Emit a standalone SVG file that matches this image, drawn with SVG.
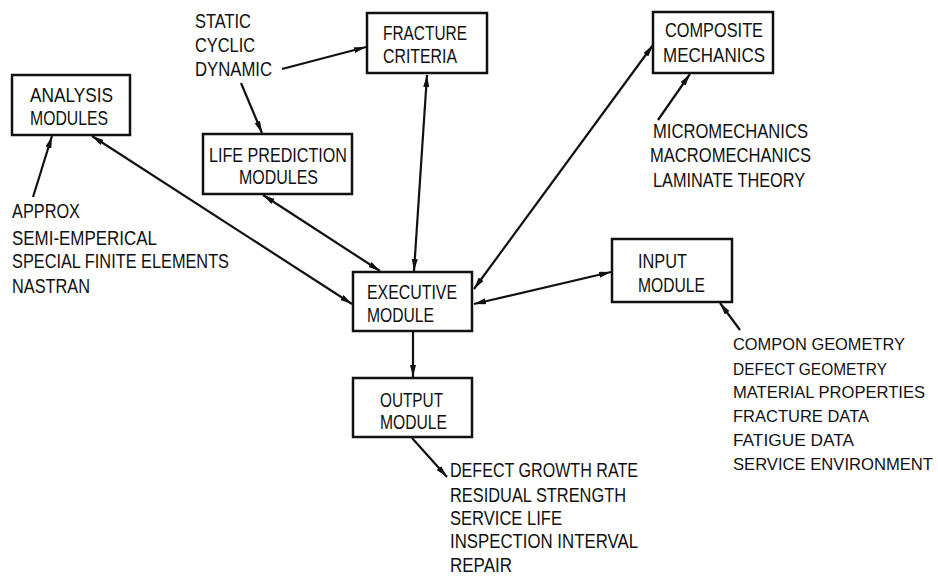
<svg xmlns="http://www.w3.org/2000/svg" width="938" height="577" viewBox="0 0 938 577">
<style>
.box{fill:#fff;stroke:#111;stroke-width:2.5}
text{font-family:"Liberation Sans","DejaVu Sans",sans-serif;font-size:20px;fill:#111}
#inputs text{font-size:16.5px}
.c line{stroke:#111;stroke-width:2.2}
</style>
<defs>
<marker id="ah" markerUnits="userSpaceOnUse" viewBox="0 0 12 6" refX="12" refY="3" markerWidth="12" markerHeight="6" orient="auto-start-reverse">
<path d="M0,0 L12,3 L0,6 Z" fill="#111"/>
</marker>
</defs>
<g class="c" id="connectors">
<line x1="282" y1="69" x2="366" y2="47" marker-end="url(#ah)"/>
<line x1="241" y1="83" x2="262" y2="133" marker-end="url(#ah)"/>
<line x1="427" y1="75" x2="414" y2="271" marker-start="url(#ah)" marker-end="url(#ah)"/>
<line x1="33" y1="197" x2="52" y2="136" marker-end="url(#ah)"/>
<line x1="92" y1="136" x2="352" y2="304" marker-start="url(#ah)" marker-end="url(#ah)"/>
<line x1="263" y1="195" x2="380" y2="271" marker-start="url(#ah)" marker-end="url(#ah)"/>
<line x1="653" y1="45" x2="474" y2="289" marker-start="url(#ah)" marker-end="url(#ah)"/>
<line x1="658" y1="120" x2="690" y2="74" marker-end="url(#ah)"/>
<line x1="611" y1="272" x2="474" y2="304" marker-start="url(#ah)" marker-end="url(#ah)"/>
<line x1="740" y1="330" x2="720" y2="303" marker-end="url(#ah)"/>
<line x1="413" y1="332" x2="413" y2="377" marker-end="url(#ah)"/>
<line x1="412" y1="438" x2="447" y2="477" marker-end="url(#ah)"/>
</g>
<g id="analysis">
<rect class="box" x="12" y="75" width="118" height="60"/>
<text x="30" y="102" textLength="83" lengthAdjust="spacingAndGlyphs">ANALYSIS</text>
<text x="30" y="125" textLength="78" lengthAdjust="spacingAndGlyphs">MODULES</text>
</g>
<g id="life">
<rect class="box" x="203" y="134" width="149" height="60"/>
<text x="209" y="162" textLength="138" lengthAdjust="spacingAndGlyphs">LIFE PREDICTION</text>
<text x="239" y="184" textLength="79" lengthAdjust="spacingAndGlyphs">MODULES</text>
</g>
<g id="fracture">
<rect class="box" x="367" y="13" width="120" height="60"/>
<text x="383" y="40" textLength="84" lengthAdjust="spacingAndGlyphs">FRACTURE</text>
<text x="383" y="63" textLength="74" lengthAdjust="spacingAndGlyphs">CRITERIA</text>
</g>
<g id="composite">
<rect class="box" x="653" y="12" width="120" height="61"/>
<text x="665" y="37" textLength="98" lengthAdjust="spacingAndGlyphs">COMPOSITE</text>
<text x="663" y="62" textLength="102" lengthAdjust="spacingAndGlyphs">MECHANICS</text>
</g>
<g id="executive">
<rect class="box" x="353" y="272" width="119" height="59"/>
<text x="367" y="299" textLength="90" lengthAdjust="spacingAndGlyphs">EXECUTIVE</text>
<text x="367" y="322" textLength="67" lengthAdjust="spacingAndGlyphs">MODULE</text>
</g>
<g id="input">
<rect class="box" x="612" y="239" width="120" height="63"/>
<text x="638" y="268" textLength="49" lengthAdjust="spacingAndGlyphs">INPUT</text>
<text x="638" y="292" textLength="67" lengthAdjust="spacingAndGlyphs">MODULE</text>
</g>
<g id="output">
<rect class="box" x="353" y="378" width="119" height="59"/>
<text x="380" y="407" textLength="63" lengthAdjust="spacingAndGlyphs">OUTPUT</text>
<text x="380" y="429" textLength="67" lengthAdjust="spacingAndGlyphs">MODULE</text>
</g>
<g id="loads">
<text x="195" y="28" textLength="56" lengthAdjust="spacingAndGlyphs">STATIC</text>
<text x="195" y="52" textLength="60" lengthAdjust="spacingAndGlyphs">CYCLIC</text>
<text x="195" y="76" textLength="77" lengthAdjust="spacingAndGlyphs">DYNAMIC</text>
</g>
<g id="methods">
<text x="12" y="218" textLength="68" lengthAdjust="spacingAndGlyphs">APPROX</text>
<text x="12" y="245" textLength="145" lengthAdjust="spacingAndGlyphs">SEMI-EMPERICAL</text>
<text x="12" y="268" textLength="217" lengthAdjust="spacingAndGlyphs">SPECIAL FINITE ELEMENTS</text>
<text x="12" y="293" textLength="78" lengthAdjust="spacingAndGlyphs">NASTRAN</text>
</g>
<g id="mechanics">
<text x="653" y="138" textLength="155" lengthAdjust="spacingAndGlyphs">MICROMECHANICS</text>
<text x="650" y="162" textLength="161" lengthAdjust="spacingAndGlyphs">MACROMECHANICS</text>
<text x="653" y="187" textLength="152" lengthAdjust="spacingAndGlyphs">LAMINATE THEORY</text>
</g>
<g id="inputs">
<text x="733" y="350" textLength="172" lengthAdjust="spacingAndGlyphs">COMPON GEOMETRY</text>
<text x="733" y="375" textLength="154" lengthAdjust="spacingAndGlyphs">DEFECT GEOMETRY</text>
<text x="733" y="398" textLength="192" lengthAdjust="spacingAndGlyphs">MATERIAL PROPERTIES</text>
<text x="733" y="422" textLength="136" lengthAdjust="spacingAndGlyphs">FRACTURE DATA</text>
<text x="733" y="446" textLength="121" lengthAdjust="spacingAndGlyphs">FATIGUE DATA</text>
<text x="733" y="470" textLength="200" lengthAdjust="spacingAndGlyphs">SERVICE ENVIRONMENT</text>
</g>
<g id="outputs">
<text x="450" y="477" textLength="188" lengthAdjust="spacingAndGlyphs">DEFECT GROWTH RATE</text>
<text x="450" y="502" textLength="176" lengthAdjust="spacingAndGlyphs">RESIDUAL STRENGTH</text>
<text x="450" y="525" textLength="112" lengthAdjust="spacingAndGlyphs">SERVICE LIFE</text>
<text x="450" y="548" textLength="188" lengthAdjust="spacingAndGlyphs">INSPECTION INTERVAL</text>
<text x="450" y="572" textLength="62" lengthAdjust="spacingAndGlyphs">REPAIR</text>
</g>
</svg>
